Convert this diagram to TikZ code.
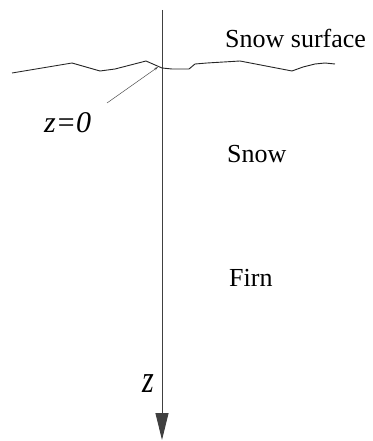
\documentclass[tikz,border=0pt]{standalone}
\usepackage{fontspec}
\setmainfont{Liberation Serif}
\usetikzlibrary{arrows.meta}
\begin{document}
\begin{tikzpicture}[x=1pt,y=-1pt,
  lbl/.style={font=\fontsize{26}{28}\selectfont, inner sep=0pt},
  ilbl/.style={font=\fontsize{30}{32}\selectfont\itshape, inner sep=0pt},
  surf/.style={line width=0.9pt, black!85},
  axis/.style={line width=0.9pt, black!75, -{Triangle[length=27pt,width=13pt]}}]
\useasboundingbox (0,0) rectangle (372,441);
\coordinate (top) at (162,10);
\coordinate (bot) at (162,440);
\draw[axis] (top) -- (bot);
\draw[surf] (12,73) -- (72,63) -- (100,71) -- (115,69) -- (146,61) -- (162,68) -- (172,69) -- (189,69) -- (195,64) -- (207,63) -- (240,61) -- (292,71) -- (303,67) -- (315,64) -- (325,63) -- (335,64);
\node[lbl, anchor=base west] (ss) at (225,48) {Snow surface};
\node[lbl, anchor=base west] (snow) at (227,162) {Snow};
\node[lbl, anchor=base west] (firn) at (229,286) {Firn};
\node[ilbl, anchor=base west] (z0) at (44,132) {z=0};
\node[ilbl, anchor=base] (z) at (148,392) {\scalebox{1}[1.3]{z}};
\coordinate (z0tip) at (158,67);
\draw[line width=0.5pt, black!70, -{Stealth[length=4pt,width=2.5pt]}] (107,103) -- (z0tip);
\end{tikzpicture}
\end{document}
